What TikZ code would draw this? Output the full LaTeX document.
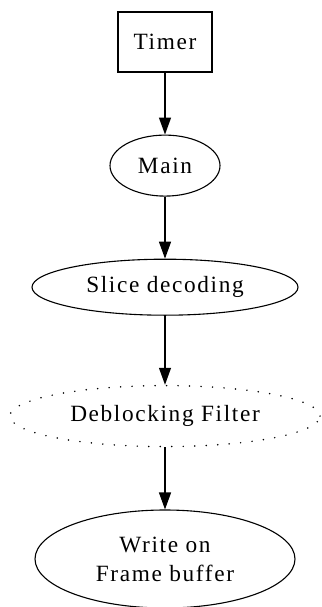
\documentclass[tikz,border=0pt]{standalone}
\usepackage{fontspec}
\setmainfont{Liberation Serif}[LetterSpace=7]
\usetikzlibrary{arrows.meta, positioning, shapes.geometric}

\begin{document}
\begin{tikzpicture}[
node distance=62pt and 0pt,
every node/.style={align=center, inner sep=0pt, line width=1.1pt, font=\fontsize{23.3}{29}\selectfont},
arrow/.style={-{Triangle[length=17pt, width=12pt]}, line width=1.3pt},
oval/.style={draw, ellipse}
]
\useasboundingbox (0,0) rectangle (321pt,-607pt);

\node[draw, rectangle, minimum width=94pt, minimum height=60pt] (timer) at (165pt,-42pt) {Timer};

\node[oval, minimum width=110pt, minimum height=61pt, below=of timer] (main) {Main};

\node[oval, minimum width=266pt, minimum height=56pt, below=of main] (slice) {Slice decoding};

\node[oval, dash pattern=on 0pt off 11.5pt, line cap=round, line width=1.7pt,
minimum width=310pt, minimum height=61pt, below=69pt of slice] (deblock) {Deblocking Filter};

\node[oval, minimum width=260pt, minimum height=98pt, below=62pt of deblock] (write) {Write on\\Frame buffer};

\draw[arrow] (timer) -- (main);
\draw[arrow] (main) -- (slice);
\draw[arrow] (slice) -- (deblock);
\draw[arrow] (deblock) -- (write);

\end{tikzpicture}
\end{document}
